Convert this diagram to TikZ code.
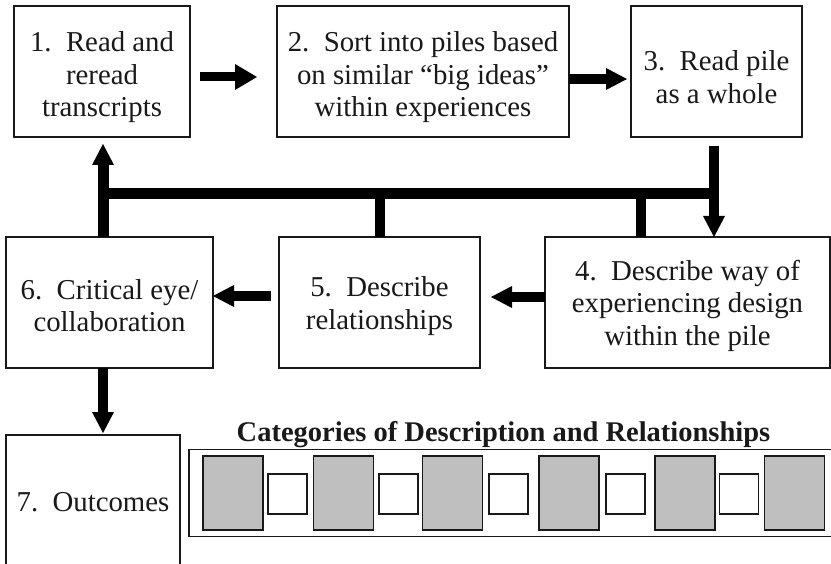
\documentclass[tikz,border=0pt]{standalone}
\usepackage{fontspec}
\setmainfont{Liberation Serif}
\usetikzlibrary{arrows.meta}
\definecolor{catgray}{RGB}{191,191,191}
\definecolor{ink}{RGB}{25,25,25}
\newcommand{\topstr}{\rule{0pt}{31.7pt}}
\newcommand{\botstr}{\rule{0pt}{26.7pt}}
\begin{document}
\begin{tikzpicture}[x=1pt,y=-1pt,
  box/.style={draw=ink, line width=1.8pt, rectangle, align=center, inner sep=0pt, outer sep=0pt,
    font=\fontsize{28.8}{32.5}\selectfont, text=ink},
  flow/.style={line width=10pt, black, -{Triangle[length=21pt,width=22pt,line width=0pt]}},
  bigflow/.style={line width=9pt, black, -{Triangle[length=22pt,width=26pt,line width=0pt]}},
  fbar/.style={line width=11pt, black},
  cat/.style={draw=ink, line width=1.8pt, rectangle, inner sep=0pt, outer sep=0pt},
]
\useasboundingbox (0,0) rectangle (831,564);
\fill[white] (0,0) rectangle (831,564);

% process boxes
\node[box, minimum width=176pt, minimum height=131pt] (b1) at (102,71.5) {\topstr 1.~~Read and\\reread\\transcripts};
\node[box, minimum width=292pt, minimum height=131pt] (b2) at (423,71.5) {\topstr 2.~~Sort into piles based\\on similar “big ideas”\\within experiences};
\node[box, minimum width=171pt, minimum height=131pt] (b3) at (716.5,71.5) {\topstr 3.~~Read pile\\as a whole};
\node[box, minimum width=207pt, minimum height=131pt] (b6) at (109.5,302.5) {\botstr 6.~~Critical eye/\\collaboration};
\node[box, minimum width=201pt, minimum height=131pt] (b5) at (379.5,302.5) {\botstr 5.~~Describe\\relationships};
\node[box, minimum width=285pt, minimum height=131pt] (b4) at (687.5,302.5) {\botstr 4.~~Describe way of\\experiencing design\\within the pile};
\node[box, minimum width=174pt, minimum height=135pt] (b7) at (93,502.5) {7.~~Outcomes};

% title and category strip
\node[anchor=base, font=\bfseries\fontsize{28.5}{33}\selectfont, text=ink, inner sep=0pt] (title) at (503.5,441) {Categories of Description and Relationships};
\node[cat, minimum width=651pt, minimum height=87pt] (strip) at (514.5,493) {};
\foreach \c [count=\i] in {233,343.5,452.5,569,685,794.5}
  \node[cat, fill=catgray, minimum width=60pt, minimum height=74pt] (g\i) at (\c,493) {};
\foreach \c [count=\i] in {287.5,398.5,508.5,625.5,739}
  \node[cat, fill=white, minimum width=39pt, minimum height=40pt] (w\i) at (\c,494) {};

% forward arrows
\draw[bigflow, shorten <=10pt, shorten >=20pt] ([yshift=-5.5pt]b1.east) -- ([yshift=-5.5pt]b2.west);
\draw[flow, shorten >=4pt] ([yshift=-7.5pt]b2.east) -- ([yshift=-7.5pt]b3.west);
\draw[flow, shorten >=11pt] ([yshift=5.5pt]b4.west) -- ([yshift=5.5pt]b5.east);
\draw[flow, shorten <=8pt] ([yshift=6.5pt]b5.west) -- ([yshift=6.5pt]b6.east);

% feedback bar
\coordinate (c1) at (103,194);
\coordinate (c2) at (718,194);
\coordinate (s5) at (380,194);
\coordinate (s4) at (641,194);
\coordinate (rx) at (714,194);
\draw[flow, line width=11pt, shorten >=7pt] (b6.north -| c1) -- (b1.south -| c1);
\draw[fbar] ([xshift=-5.5pt]c1) -- (c2);
\draw[fbar, line width=10pt] (b5.north -| s5) -- (s5);
\draw[fbar, line width=10pt] (b4.north -| s4) -- (s4);
\draw[flow, shorten <=9pt] (b3.south -| rx) -- (b4.north -| rx);
\draw[flow, shorten >=2pt] (b6.south -| c1) -- (b7.north -| c1);
\end{tikzpicture}
\end{document}
